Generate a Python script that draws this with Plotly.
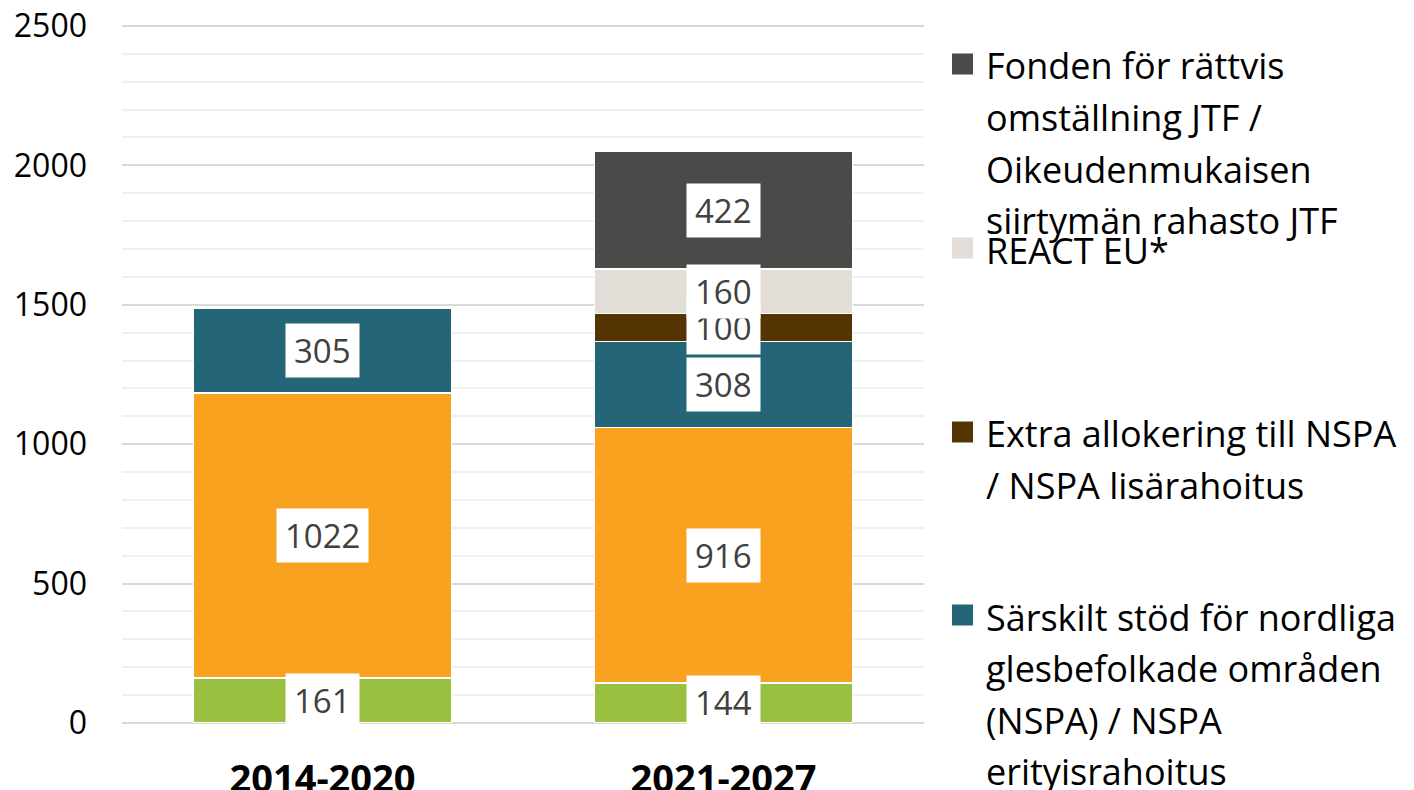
import plotly.graph_objects as go

categories = ["2014-2020", "2021-2027"]

green_vals = [161, 144]
orange_vals = [1022, 916]
teal_vals = [305, 308]
brown_vals = [None, 100]
light_vals = [None, 160]
dark_vals = [None, 422]

series_names = [
    "Green",
    "Orange",
    "Särskilt stöd för nordliga glesbefolkade områden (NSPA) / NSPA erityisrahoitus",
    "Extra allokering till NSPA / NSPA lisärahoitus",
    "REACT EU*",
    "Fonden för rättvis omställning JTF / Oikeudenmukaisen siirtymän rahasto JTF",
]
series_values = [green_vals, orange_vals, teal_vals, brown_vals, light_vals, dark_vals]
series_colors = ["#99C13F", "#F9A220", "#246578", "#553404", "#E2DED7", "#4B4A49"]

# visible legend entries (top to bottom) as wrapped lines
legend_items = [
    (5, ["Fonden för rättvis", "omställning JTF /", "Oikeudenmukaisen", "siirtymän rahasto JTF"]),
    (4, ["REACT EU*"]),
    (3, ["Extra allokering till NSPA", "/ NSPA lisärahoitus"]),
    (2, ["Särskilt stöd för nordliga", "glesbefolkade områden", "(NSPA) / NSPA", "erityisrahoitus"]),
]

FONT = "Open Sans"
OFF = 8  # page offset of the figure inside the browser window
W, H = 1414, 790
L, T = 122 - OFF, 24 - OFF
R = W - (924 - OFF)
B = H - (723 - OFF)
PW, PH = W - L - R, H - T - B


def px_x(x):
    return (x - OFF - L) / PW


def px_y(y):
    return (H - B - (y - OFF)) / PH


fig = go.Figure()
for name, vals, col in zip(series_names, series_values, series_colors):
    fig.add_trace(go.Bar(
        x=categories, y=vals, name=name,
        marker=dict(color=col, line=dict(color="white", width=1.5)),
        width=0.643, showlegend=False, hoverinfo="skip",
    ))

annotations = []
# data labels
for ci, cat in enumerate(categories):
    base = 0
    for vals in series_values:
        v = vals[ci]
        if v is None:
            continue
        annotations.append(dict(
            x=cat, y=base + v / 2, xref="x", yref="y", text=str(v),
            showarrow=False, bgcolor="white", borderpad=8, height=37,
            font=dict(family=FONT, size=33, color="#404040"),
        ))
        base += v

# legend drawn manually
shapes = []
item_y = [64, 248, 432, 615]
line_gap = 51.5
for (si, lines), y0 in zip(legend_items, item_y):
    shapes.append(dict(
        type="rect", xref="paper", yref="paper",
        x0=px_x(952), x1=px_x(973), y0=px_y(y0 + 10.5), y1=px_y(y0 - 10.5),
        fillcolor=series_colors[si], line=dict(width=0),
    ))
    for k, ln in enumerate(lines):
        annotations.append(dict(
            x=px_x(984), y=px_y(y0 + k * line_gap + 2), xref="paper", yref="paper",
            text=ln, showarrow=False, xanchor="left", yanchor="middle",
            font=dict(family=FONT, size=36, color="black"),
        ))

fig.update_layout(
    barmode="stack",
    width=W, height=H,
    margin=dict(l=L, r=R, t=T, b=B, autoexpand=False),
    plot_bgcolor="white", paper_bgcolor="white",
    font=dict(family=FONT, color="black"),
    bargap=0.357,
    showlegend=False,
    annotations=annotations,
    shapes=shapes,
    xaxis=dict(
        type="category", range=[-0.5, 1.5], showgrid=False, showline=False,
        tickfont=dict(family=FONT, size=38, color="black", weight="bold"),
        ticklabelstandoff=30, ticks="",
    ),
    yaxis=dict(
        range=[0, 2507], tickvals=[0, 500, 1000, 1500, 2000, 2500],
        showgrid=True, gridcolor="#D9D9D9", gridwidth=1.5,
        zeroline=True, zerolinecolor="#D9D9D9", zerolinewidth=1.5,
        minor=dict(dtick=100, showgrid=True, gridcolor="#F0F0F0", gridwidth=1.5),
        tickfont=dict(family=FONT, size=32, color="black"),
        ticklabelstandoff=34, ticks="", ticklabeloverflow="allow",
    ),
)

fig.write_html("out.html")
